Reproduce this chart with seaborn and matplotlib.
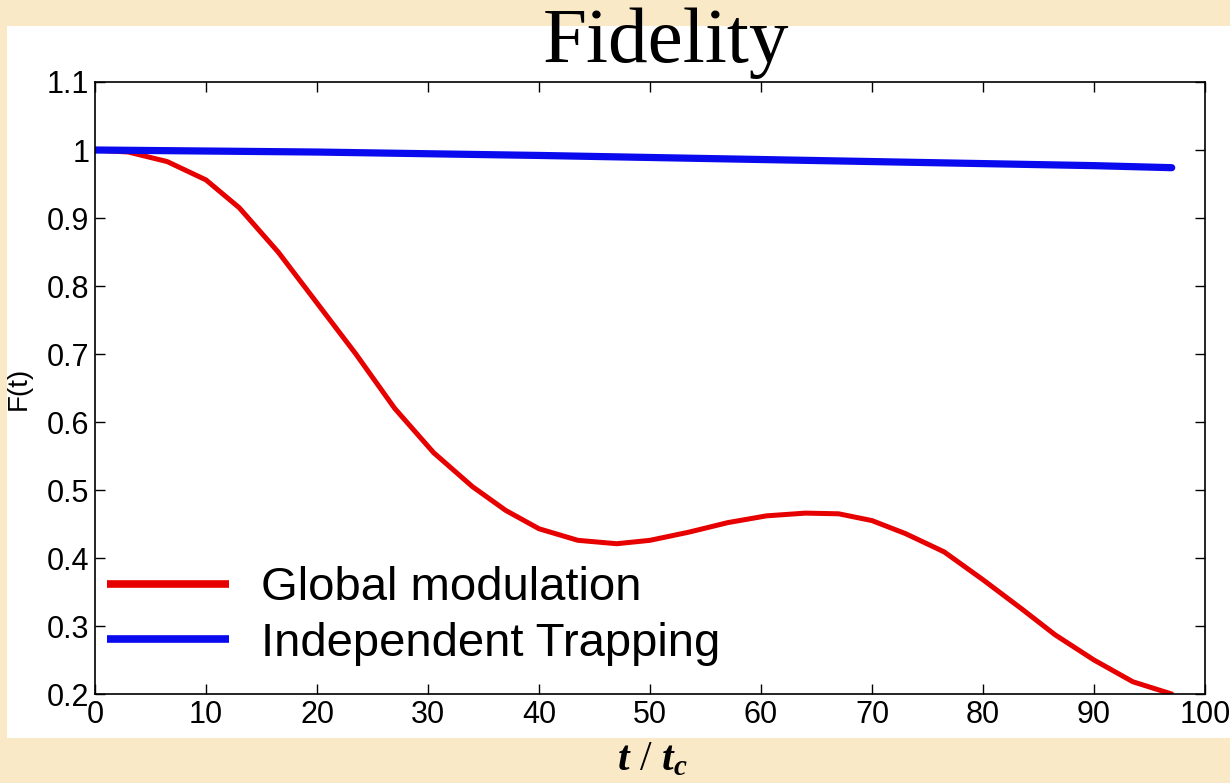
import matplotlib
matplotlib.use("Agg")
import matplotlib.pyplot as plt
from matplotlib.patches import Rectangle
import seaborn as sns

# Fidelity curves
t_global = [0, 3, 6.5, 10, 13, 16.5, 20, 23.5, 27, 30.5, 34, 37, 40, 43.5, 47,
            50, 53.5, 57, 60.5, 64, 67, 70, 73, 76.5, 80, 83.5, 86.5, 90, 93.5, 97]
f_global = [1.0, 0.997, 0.983, 0.956, 0.915, 0.85, 0.775, 0.70, 0.62, 0.555,
            0.505, 0.47, 0.443, 0.426, 0.421, 0.426, 0.438, 0.452, 0.462, 0.466,
            0.465, 0.455, 0.436, 0.409, 0.368, 0.325, 0.287, 0.25, 0.218, 0.2]

t_indep = [0, 10, 20, 30, 40, 50, 60, 70, 80, 90, 97]
f_indep = [1.0, 0.9985, 0.997, 0.9945, 0.992, 0.989, 0.986, 0.983, 0.980, 0.977, 0.974]

x_ticks = [0, 10, 20, 30, 40, 50, 60, 70, 80, 90, 100]
y_ticks = [0.2, 0.3, 0.4, 0.5, 0.6, 0.7, 0.8, 0.9, 1.0, 1.1]
y_ticklabels = ["0.2", "0.3", "0.4", "0.5", "0.6", "0.7", "0.8", "0.9", "1", "1.1"]

sns.set_style("ticks")
plt.rcParams["font.family"] = ["Liberation Sans", "DejaVu Sans"]
plt.rcParams["text.color"] = "black"
plt.rcParams["axes.labelcolor"] = "black"
plt.rcParams["mathtext.fontset"] = "custom"
plt.rcParams["mathtext.rm"] = "Liberation Serif"
plt.rcParams["mathtext.it"] = "Liberation Serif:italic:bold"

W, H = 1230, 783
fig = plt.figure(figsize=(12.3, 7.83), dpi=100)
fig.patch.set_facecolor("#f9e9c6")
# white panel behind the plot
fig.patches.append(Rectangle((7 / W, (H - 738) / H), 1 - 7 / W, (738 - 26) / H,
                             transform=fig.transFigure, facecolor="white",
                             edgecolor="none", zorder=-5))

ax = fig.add_axes([95 / W, (H - 694) / H, 1110 / W, 612 / H])
ax.set_zorder(2)
ax.set_facecolor("white")

sns.lineplot(x=t_global, y=f_global, ax=ax, color="#e60000", linewidth=3.6,
             label="Global modulation")
sns.lineplot(x=t_indep, y=f_indep, ax=ax, color="#0a0aee", linewidth=5.2,
             label="Independent Trapping")

ax.set_xlim(0, 100)
ax.set_ylim(0.2, 1.1)
ax.set_xticks(x_ticks)
ax.set_yticks(y_ticks)
ax.set_yticklabels(y_ticklabels)
ax.tick_params(direction="in", length=7, width=1, labelsize=22, pad=4,
               top=True, right=True, colors="black")
for s in ax.spines.values():
    s.set_visible(True)
    s.set_linewidth(1.2)
    s.set_color("black")

ax.set_xlabel("")
ax.set_ylabel("F(t)", fontsize=20, color="black")
ax.yaxis.set_label_coords(-0.057, 0.5)

leg = ax.legend(loc="lower left", bbox_to_anchor=(0.011, 0.046), frameon=False,
                fontsize=34, handlelength=2.57, handletextpad=0.68,
                labelspacing=0.25, borderpad=0, borderaxespad=0)
for line in leg.get_lines():
    line.set_linewidth(5.5)
    line.set_solid_capstyle("butt")
for txt in leg.get_texts():
    txt.set_color("black")

fig.text(666 / W, (H - 62) / H, "Fidelity", fontsize=57, ha="center",
         va="baseline", color="black", family=["Liberation Serif", "DejaVu Serif"])
fig.text(652 / W, (H - 770) / H, r"$t\ /\ t_c$", fontsize=30, ha="center",
         va="baseline", color="black")

fig.savefig("out.png", dpi=100, facecolor=fig.get_facecolor())
